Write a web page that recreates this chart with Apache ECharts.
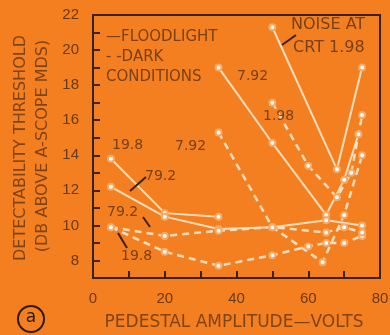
<!DOCTYPE html>
<html>
<head>
<meta charset="utf-8">
<script src="https://cdn.jsdelivr.net/npm/echarts@6/dist/echarts.min.js"></script>
<style>
  html, body { margin: 0; padding: 0; background: #f47f20; }
  #chart { width: 390px; height: 335px; }
</style>
</head>
<body>
<div id="chart"></div>
<script>
// pedestal amplitude (volts) / detectability threshold (dB above A-scope MDS)
// floodlight = solid, dark conditions = dashed; number = noise at CRT
const flood198X = [50, 68, 75];
const flood198Y = [21.3, 13.2, 19.0];
const flood792X = [35, 50, 65, 70, 74];
const flood792Y = [19.0, 14.7, 10.6, 12.6, 15.2];
const flood198bX = [5, 20, 35];
const flood198bY = [13.8, 10.7, 10.5];
const flood792bX = [5, 20, 35, 50, 65, 75];
const flood792bY = [12.2, 10.5, 9.8, 9.9, 10.3, 10.0];

const dark198X = [50, 60, 68, 72, 75];
const dark198Y = [17.0, 13.4, 11.6, 13.0, 16.3];
const dark792X = [35, 50, 64, 70, 75];
const dark792Y = [15.3, 9.9, 7.9, 10.6, 14.0];
const dark198bX = [5, 20, 35, 50, 60, 65, 70, 75];
const dark198bY = [9.9, 8.5, 7.7, 8.3, 8.8, 9.0, 9.0, 9.4];
const dark792bX = [5, 20, 35, 50, 65, 70, 75];
const dark792bY = [9.9, 9.4, 9.7, 9.9, 9.6, 9.9, 9.6];

const xTicks = [0, 20, 40, 60, 80];
const yTicks = [8, 10, 12, 14, 16, 18, 20, 22];

const INK = '#6a3a12';
const LINE = '#fde6cc';

const chart = echarts.init(document.getElementById('chart'), null, { renderer: 'canvas' });

function pairs(xs, ys) {
  return xs.map((x, i) => [x, ys[i]]);
}

function curve(name, xs, ys, dashed) {
  return {
    name: name,
    type: 'line',
    data: pairs(xs, ys),
    symbol: 'emptyCircle',
    symbolSize: 6,
    lineStyle: { color: LINE, width: dashed ? 2.5 : 2, type: dashed ? [7, 5] : 'solid', opacity: 0.92 },
    itemStyle: { color: '#f6a866', borderColor: LINE, borderWidth: 1.2 },
    animation: false
  };
}

function label(text, x, y, size) {
  return {
    type: 'text', x: x, y: y, z: 10,
    style: { text: text, font: (size || 14) + 'px "DejaVu Sans", sans-serif', fill: INK, opacity: 0.9 }
  };
}

function arrow(x1, y1, x2, y2) {
  return {
    type: 'line', z: 10,
    shape: { x1: x1, y1: y1, x2: x2, y2: y2 },
    style: { stroke: '#3a200a', lineWidth: 2 }
  };
}

const option = {
  backgroundColor: '#f47f20',
  animation: false,
  grid: {
    left: 93, right: 10, top: 15, bottom: 57,
    show: true, borderColor: '#3a220c', borderWidth: 2,
    outerBoundsMode: 'none'
  },
  xAxis: {
    type: 'value',
    min: 0, max: 80, interval: 10,
    axisLine: { lineStyle: { color: '#3a220c', width: 2 } },
    axisTick: { inside: true, length: 7, lineStyle: { color: '#3a220c', width: 2 } },
    splitLine: { show: false },
    axisLabel: {
      margin: 13,
      color: INK,
      fontSize: 15,
      fontFamily: '"Liberation Sans", sans-serif',
      formatter: (v) => (xTicks.includes(v) ? String(v) : '')
    }
  },
  yAxis: {
    type: 'value',
    min: 7, max: 22, interval: 1,
    axisLine: { lineStyle: { color: '#3a220c', width: 2 } },
    axisTick: { inside: true, length: 7, lineStyle: { color: '#3a220c', width: 2 } },
    splitLine: { show: false },
    axisLabel: {
      margin: 14,
      color: INK,
      fontSize: 15,
      fontFamily: '"Liberation Sans", sans-serif',
      formatter: (v) => (yTicks.includes(v) ? String(v) : '')
    }
  },
  series: [
    curve('floodlight 1.98', flood198X, flood198Y, false),
    curve('floodlight 7.92', flood792X, flood792Y, false),
    curve('floodlight 19.8', flood198bX, flood198bY, false),
    curve('floodlight 79.2', flood792bX, flood792bY, false),
    curve('dark 1.98', dark198X, dark198Y, true),
    curve('dark 7.92', dark792X, dark792Y, true),
    curve('dark 19.8', dark198bX, dark198bY, true),
    curve('dark 79.2', dark792bX, dark792bY, true)
  ],
  graphic: [
    // axis titles
    {
      type: 'text', x: 21, y: 148, rotation: Math.PI / 2, z: 10,
      style: { text: 'DETECTABILITY THRESHOLD', font: '16px "DejaVu Sans", sans-serif', fill: INK, opacity: 0.85, align: 'center', verticalAlign: 'middle' }
    },
    {
      type: 'text', x: 43, y: 146, rotation: Math.PI / 2, z: 10,
      style: { text: '(DB ABOVE A-SCOPE MDS)', font: '16px "DejaVu Sans", sans-serif', fill: INK, opacity: 0.85, align: 'center', verticalAlign: 'middle' }
    },
    {
      type: 'text', x: 234, y: 323, z: 10,
      style: { text: 'PEDESTAL AMPLITUDE\u2014VOLTS', font: '17px "DejaVu Sans", sans-serif', fill: INK, opacity: 0.85, align: 'center', verticalAlign: 'middle' }
    },
    // legend text
    label('\u2014FLOODLIGHT', 106, 30, 15),
    label('- -DARK', 106, 50, 15),
    label('CONDITIONS', 106, 70, 15),
    // curve labels
    label('NOISE AT', 291, 17, 16),
    label('CRT 1.98', 293, 40, 16),
    label('7.92', 237, 69),
    label('1.98', 263, 109),
    label('7.92', 175, 139),
    label('19.8', 112, 138),
    label('79.2', 145, 169),
    label('79.2', 107, 205),
    label('19.8', 121, 249),
    arrow(296, 35, 282, 45),
    arrow(146, 177, 130, 191),
    arrow(143, 217, 150, 227),
    arrow(118, 233, 127, 248),
    // panel marker (a)
    {
      type: 'circle', z: 10,
      shape: { cx: 31, cy: 319, r: 13 },
      style: { fill: 'none', stroke: '#2e1a08', lineWidth: 2 }
    },
    {
      type: 'text', x: 31, y: 318, z: 10,
      style: { text: 'a', font: '17px "DejaVu Sans", sans-serif', fill: '#2e1a08', align: 'center', verticalAlign: 'middle' }
    }
  ]
};

chart.setOption(option);
window.addEventListener('resize', () => chart.resize());
</script>
</body>
</html>
